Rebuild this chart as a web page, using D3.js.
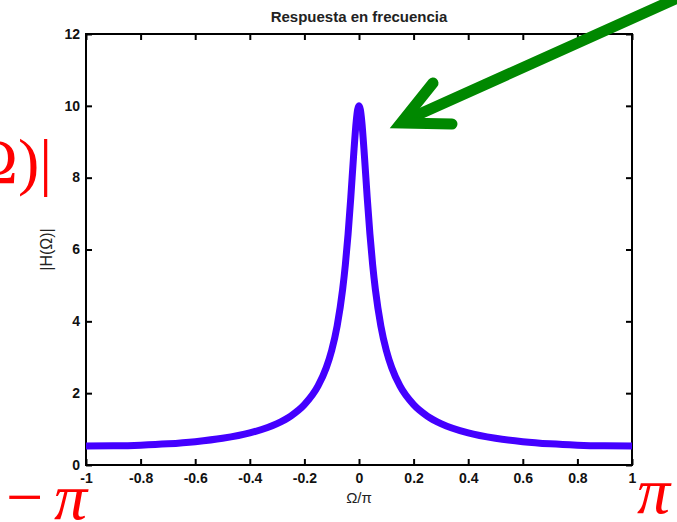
<!DOCTYPE html>
<html>
<head>
<meta charset="utf-8">
<script src="https://cdn.jsdelivr.net/npm/d3@7"></script>
<style>
  html, body { margin: 0; padding: 0; background: #fff; }
  svg { display: block; }
  text { font-family: "Liberation Sans", Arial, sans-serif; }
</style>
</head>
<body>
<svg id="chart" width="677" height="522"></svg>
<script>
// Normalised frequency Ω/π and magnitude |H(Ω)|
const omegaOverPi = [-1, -0.9, -0.8, -0.7, -0.6, -0.5, -0.4, -0.3, -0.25, -0.2, -0.15, -0.12, -0.1, -0.08,
  -0.06, -0.05, -0.04, -0.03, -0.02, -0.01, -0.005, 0, 0.005, 0.01, 0.02, 0.03, 0.04, 0.05, 0.06,
  0.08, 0.1, 0.12, 0.15, 0.2, 0.25, 0.3, 0.4, 0.5, 0.6, 0.7, 0.8, 0.9, 1];
const magnitude = [0.526, 0.533, 0.553, 0.590, 0.650, 0.743, 0.893, 1.153, 1.364, 1.681, 2.202, 2.708, 3.193, 3.876,
  4.886, 5.576, 6.429, 7.456, 8.590, 9.583, 9.891, 10, 9.891, 9.583, 8.590, 7.456, 6.429, 5.576, 4.886,
  3.876, 3.193, 2.708, 2.202, 1.681, 1.364, 1.153, 0.893, 0.743, 0.650, 0.590, 0.553, 0.533, 0.526];

const xTicks = [-1, -0.8, -0.6, -0.4, -0.2, 0, 0.2, 0.4, 0.6, 0.8, 1];
const yTicks = [0, 2, 4, 6, 8, 10, 12];
const xTickLabels = ["-1", "-0.8", "-0.6", "-0.4", "-0.2", "0", "0.2", "0.4", "0.6", "0.8", "1"];
const yTickLabels = ["0", "2", "4", "6", "8", "10", "12"];

const titleText = "Respuesta en frecuencia";
const xLabelText = "Ω/π";
const yLabelText = "|H(Ω)|";

const svg = d3.select("#chart");
const plotLeft = 86, plotRight = 632, plotTop = 34, plotBottom = 465;

const x = d3.scaleLinear().domain([-1, 1]).range([plotLeft, plotRight]);
const y = d3.scaleLinear().domain([0, 12]).range([plotBottom, plotTop]);

const tickLen = 6;
const tickFont = "bold 14px 'Liberation Sans', Arial, sans-serif";

// Bottom axis with inward ticks
const gx = svg.append("g").attr("transform", `translate(0,${plotBottom})`)
  .call(d3.axisBottom(x).tickValues(xTicks).tickSizeInner(-tickLen).tickSizeOuter(0)
    .tickFormat((d, i) => xTickLabels[i]));
gx.select(".domain").remove();
gx.selectAll("line").attr("stroke", "#000").attr("stroke-width", 2);
gx.selectAll("text").attr("y", 8).attr("dy", "0.71em").style("font", tickFont).attr("fill", "#111");

// Top axis (mirror ticks)
const gxt = svg.append("g").attr("transform", `translate(0,${plotTop})`)
  .call(d3.axisTop(x).tickValues(xTicks).tickSizeInner(-tickLen).tickSizeOuter(0).tickFormat(""));
gxt.select(".domain").remove();
gxt.selectAll("line").attr("stroke", "#000").attr("stroke-width", 2);

// Left axis with inward ticks
const gy = svg.append("g").attr("transform", `translate(${plotLeft},0)`)
  .call(d3.axisLeft(y).tickValues(yTicks).tickSizeInner(-tickLen).tickSizeOuter(0)
    .tickFormat((d, i) => yTickLabels[i]));
gy.select(".domain").remove();
gy.selectAll("line").attr("stroke", "#000").attr("stroke-width", 2);
gy.selectAll("text").attr("x", -6).attr("dy", "0.3em").style("font", tickFont).attr("fill", "#111");

// Right axis (mirror ticks)
const gyr = svg.append("g").attr("transform", `translate(${plotRight},0)`)
  .call(d3.axisRight(y).tickValues(yTicks).tickSizeInner(-tickLen).tickSizeOuter(0).tickFormat(""));
gyr.select(".domain").remove();
gyr.selectAll("line").attr("stroke", "#000").attr("stroke-width", 2);

// Frame
svg.append("rect").attr("x", plotLeft).attr("y", plotTop)
  .attr("width", plotRight - plotLeft).attr("height", plotBottom - plotTop)
  .attr("fill", "none").attr("stroke", "#000").attr("stroke-width", 2);

// Magnitude response curve
const points = omegaOverPi.map((v, i) => [v, magnitude[i]]);
svg.append("path").datum(points)
  .attr("fill", "none").attr("stroke", "#4400ff").attr("stroke-width", 7)
  .attr("stroke-linejoin", "round")
  .attr("d", d3.line().x(d => x(d[0])).y(d => y(d[1])).curve(d3.curveMonotoneX));

// Title and axis labels
svg.append("text").attr("x", (plotLeft + plotRight) / 2).attr("y", 22).attr("text-anchor", "middle")
  .style("font", "bold 15px 'Liberation Sans', Arial, sans-serif").attr("fill", "#222").text(titleText);
svg.append("text").attr("x", (plotLeft + plotRight) / 2).attr("y", 503).attr("text-anchor", "middle")
  .style("font", "15px 'Liberation Sans', Arial, sans-serif").attr("fill", "#222").text(xLabelText);
svg.append("text").attr("transform", `translate(52,${(plotTop + plotBottom) / 2}) rotate(-90)`)
  .attr("text-anchor", "middle")
  .style("font", "16px 'Liberation Sans', Arial, sans-serif").attr("fill", "#222").text(yLabelText);

// Red hand annotations
const serif = "'Liberation Serif', 'DejaVu Serif', serif";
svg.append("text").attr("x", 52).attr("y", 183).attr("text-anchor", "end")
  .style("font", `64px ${serif}`).attr("fill", "#ff0000").text("|H(Ω)|");
svg.append("text").attr("x", 6).attr("y", 519)
  .style("font", `66px ${serif}`).attr("fill", "#ff0000").text("−");
svg.append("text").attr("x", 54).attr("y", 519)
  .style("font", `italic 66px ${serif}`).attr("fill", "#ff0000").text("π");
svg.append("text").attr("x", 637).attr("y", 513)
  .style("font", `italic 66px ${serif}`).attr("fill", "#ff0000").text("π");

// Green arrow pointing at the peak
const arrow = svg.append("g").attr("stroke", "#008800").attr("fill", "none")
  .attr("stroke-width", 11);
arrow.append("line").attr("x1", 700).attr("y1", -12).attr("x2", 404).attr("y2", 121)
  .attr("stroke-linecap", "round");
arrow.append("path").attr("d", "M433,83 L401,123 L452,124")
  .attr("stroke-linecap", "round").attr("stroke-linejoin", "miter");
</script>
</body>
</html>
